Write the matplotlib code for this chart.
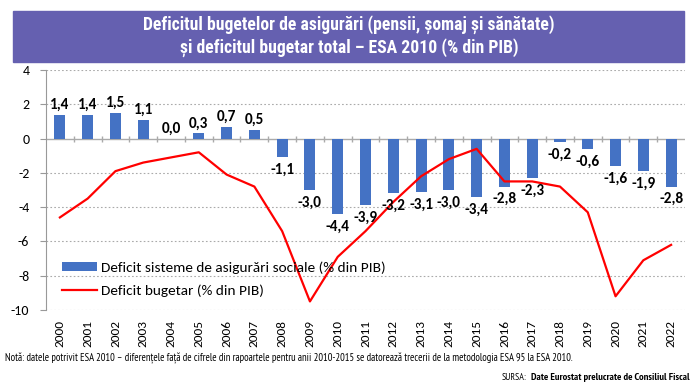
#!/usr/bin/env python3
"""Deficitul bugetelor de asigurări vs deficitul bugetar total (ESA 2010)."""
import matplotlib

matplotlib.use("Agg")
import matplotlib.pyplot as plt
from matplotlib.patches import Rectangle

plt.rcParams["font.family"] = ["Carlito", "DejaVu Sans"]

years = [str(y) for y in range(2000, 2023)]
asigurari = [1.4, 1.4, 1.5, 1.1, 0.0, 0.3, 0.7, 0.5, -1.1, -3.0, -4.4, -3.9,
             -3.2, -3.1, -3.0, -3.4, -2.8, -2.3, -0.2, -0.6, -1.6, -1.9, -2.8]
bugetar = [-4.6, -3.5, -1.9, -1.4, -1.1, -0.8, -2.1, -2.8, -5.4, -9.5, -6.9, -5.4,
           -3.7, -2.2, -1.2, -0.6, -2.5, -2.5, -2.8, -4.3, -9.2, -7.1, -6.2]
yticks = [4, 2, 0, -2, -4, -6, -8, -10]

BLUE = "#4472C4"
RED = "#FF0000"
COND = ["Roboto Condensed", "DejaVu Sans"]
NARROW = ["PT Sans Narrow", "DejaVu Sans"]

fig = plt.figure(figsize=(6.99, 3.89), dpi=100)
ax = fig.add_axes([46 / 699, 1 - 310 / 389, 639 / 699, 240 / 389])

x = list(range(len(years)))
bars = ax.bar(x, asigurari, width=0.4, color=BLUE, zorder=3)
line, = ax.plot(x, bugetar, color=RED, lw=1.6, zorder=4)

for xi, v in zip(x, asigurari):
    lab = f"{v:.1f}".replace(".", ",")
    if v >= 0:
        ax.annotate(lab, (xi, v), xytext=(0, 2), textcoords="offset points",
                    ha="center", va="bottom", fontsize=11, fontweight="bold", zorder=5)
    else:
        ax.annotate(lab, (xi, v), xytext=(0, -4), textcoords="offset points",
                    ha="center", va="top", fontsize=11, fontweight="bold", zorder=5)

ax.set_xlim(-0.5, len(years) - 0.5)
ax.set_ylim(-10, 4)
ax.set_yticks(yticks)
ax.set_yticklabels([str(t) for t in yticks], fontsize=10)
ax.set_xticks(x)
ax.set_xticklabels(years, rotation=90, fontsize=9.5)
ax.tick_params(axis="x", length=0, pad=7)
ax.tick_params(axis="y", length=4, color="#999999", pad=8)
for t in yticks:
    if t != 0:
        ax.axhline(t, color="#aaaaaa", lw=0.8, ls=(0, (1.5, 2)), zorder=1)
ax.axhline(0, color="#aaaaaa", lw=1.0, zorder=2)
# mici gradații pe axa categoriilor (la y=0)
ax.plot([xi + 0.5 for xi in x[:-1]], [0] * (len(x) - 1), ls="none", marker="|",
        ms=5, color="#aaaaaa", zorder=2)
for s in ["top", "right", "bottom"]:
    ax.spines[s].set_visible(False)
ax.spines["left"].set_color("#999999")

ax.legend([bars, line],
          ["Deficit sisteme de asigurări sociale (% din PIB)", "Deficit bugetar (% din PIB)"],
          loc="lower left", bbox_to_anchor=(0.015, 0.03), frameon=False,
          fontsize=11, handlelength=2.3, handleheight=0.5, labelspacing=0.65,
          borderaxespad=0, handletextpad=0.3)

# banda de titlu
fig.patches.append(Rectangle((13 / 699, 1 - 62 / 389), 671 / 699, 51 / 389,
                             transform=fig.transFigure, color="#6560B0", zorder=0))
fig.text(349 / 699, 1 - 25 / 389,
         "Deficitul bugetelor de asigurări (pensii, șomaj și sănătate)",
         ha="center", va="center", color="white", fontsize=12.7, fontweight="bold",
         family=COND)
fig.text(349 / 699, 1 - 48 / 389,
         "și deficitul bugetar total – ESA 2010 (% din PIB)",
         ha="center", va="center", color="white", fontsize=12.7, fontweight="bold",
         family=COND)

fig.text(5 / 699, 1 - 358 / 389,
         "Notă: datele potrivit ESA 2010 – diferențele față de cifrele din rapoartele "
         "pentru anii 2010-2015 se datorează trecerii de la metodologia ESA 95 la ESA 2010.",
         ha="left", va="center", fontsize=7.6, family=NARROW)
src = fig.text(690 / 699, 1 - 377 / 389, "Date Eurostat prelucrate de Consiliul Fiscal",
               ha="right", va="center", fontsize=7.5, fontweight="bold", family=NARROW)
fig.canvas.draw()
bb = src.get_window_extent()
fig.text((bb.x0 - 5) / 699, 1 - 377 / 389, "SURSA:", ha="right", va="center",
         fontsize=7, family=NARROW)

fig.savefig("out.png", dpi=100)
